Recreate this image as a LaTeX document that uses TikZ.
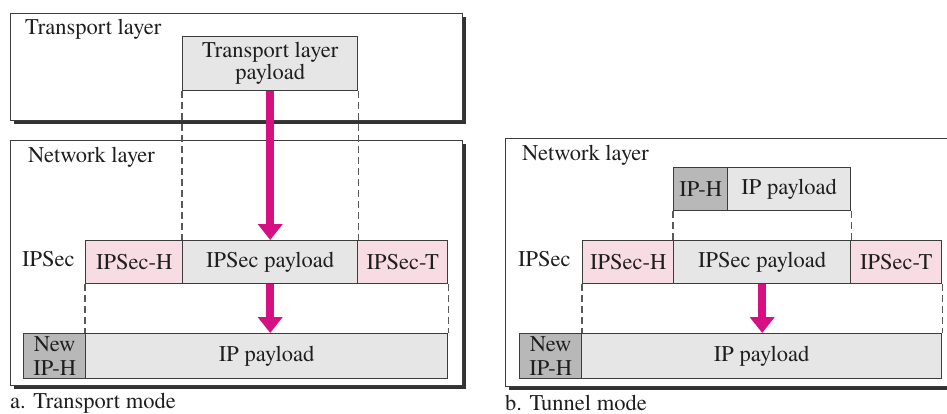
\documentclass[tikz,border=0pt]{standalone}
\usepackage{fontspec}
\newfontfamily\figserif{TeX Gyre Termes}
\usetikzlibrary{arrows.meta,shadows}
\definecolor{pinkf}{RGB}{248,220,228}
\definecolor{greyf}{RGB}{230,230,230}
\definecolor{darkf}{RGB}{184,184,184}
\definecolor{edgec}{RGB}{60,60,60}
\definecolor{magc}{RGB}{214,16,130}
\definecolor{txtc}{RGB}{30,30,30}
\tikzset{
  base/.style={font=\figserif\fontsize{22.5}{24}\selectfont, text=txtc},
  pbox/.style={base, draw=edgec, line width=1.4pt, inner sep=0pt, anchor=north west, align=center},
  pinkbox/.style={pbox, fill=pinkf},
  greybox/.style={pbox, fill=greyf},
  darkbox/.style={pbox, fill=darkf},
  layerbox/.style={draw=edgec, line width=1.4pt, fill=white, inner sep=0pt, anchor=north west,
    drop shadow={shadow xshift=3pt, shadow yshift=-3pt, fill=black!80, opacity=1}},
  lbl/.style={base, inner sep=0pt, anchor=west},
  guide/.style={draw=black!65, line width=1.4pt, dash pattern=on 7pt off 4pt},
  bigarrow/.style={draw=magc, line width=8pt, -{Triangle[width=24pt,length=16pt]}, shorten >=0pt},
}
\begin{document}
\begin{tikzpicture}[x=1pt,y=-1pt]
\useasboundingbox (0,0) rectangle (947,414);
\clip (0,0) rectangle (947,414);
% ---------- left: transport mode ----------
\node[layerbox, minimum width=452, minimum height=107] (tlayer) at (10,13) {};
\node[layerbox, minimum width=452, minimum height=245] (nlayer) at (10,140) {};
\node[lbl] (tlbl) at (25,29) {Transport layer};
\node[greybox, minimum width=175, minimum height=54] (tlp) at (182,36) {Transport layer\\[-2pt]payload};
\node[lbl] (nlbl) at (28,157) {Network layer};
\node[lbl] (ipseclbl) at (22,259) {IPSec};
\node[pinkbox, minimum width=97, minimum height=43] (ipsech) at (85,240) {IPSec-H};
\node[greybox, minimum width=175, minimum height=43] (ipsecp) at (182,240) {IPSec payload};
\node[pinkbox, minimum width=90, minimum height=43] (ipsect) at (357,240) {IPSec-T};
\node[darkbox, minimum width=62, minimum height=45] (newiph) at (23,333) {New\\[0pt]IP-H};
\node[greybox, minimum width=362, minimum height=45] (ippay) at (85,333) {IP payload};
\draw[guide] (tlp.south west) -- (ipsecp.north west);
\draw[guide] (tlp.south east) -- (ipsecp.north east);
\draw[guide] (ipsech.south west) -- (ippay.north west);
\draw[guide] (ipsect.south east) -- (ippay.north east);
\draw[bigarrow] (tlp.south) -- (ipsecp.north);
\draw[bigarrow] (ipsecp.south) -- (ipsecp.south |- ippay.north);
\node[lbl] (capa) at (10,403) {a. Transport mode};
% ---------- right: tunnel mode ----------
\node[layerbox, minimum width=460, minimum height=248] (nlayer2) at (505,138) {};
\node[lbl] (nlbl2) at (522,155) {Network layer};
\node[darkbox, minimum width=54, minimum height=43] (iph) at (673,167) {IP-H};
\node[greybox, minimum width=123, minimum height=43] (ipp) at (727,167) {IP payload};
\node[lbl] (ipseclbl2) at (518,259) {IPSec};
\node[pinkbox, minimum width=91, minimum height=43] (ipsech2) at (582,240) {IPSec-H};
\node[greybox, minimum width=177, minimum height=43] (ipsecp2) at (673,240) {IPSec payload};
\node[pinkbox, minimum width=91, minimum height=43] (ipsect2) at (850,240) {IPSec-T};
\node[darkbox, minimum width=62, minimum height=45] (newiph2) at (519,333) {New\\[0pt]IP-H};
\node[greybox, minimum width=360, minimum height=45] (ippay2) at (581,333) {IP payload};
\draw[guide] (iph.south west) -- (ipsecp2.north west);
\draw[guide] (ipp.south east) -- (ipsecp2.north east);
\draw[guide] (ipsech2.south west) -- (ipsech2.south west |- ippay2.north);
\draw[guide] (ipsect2.south east) -- (ippay2.north east);
\draw[bigarrow] (ipsecp2.south) -- (ipsecp2.south |- ippay2.north);
\node[lbl] (capb) at (505,403) {b. Tunnel mode};
\end{tikzpicture}
\end{document}
